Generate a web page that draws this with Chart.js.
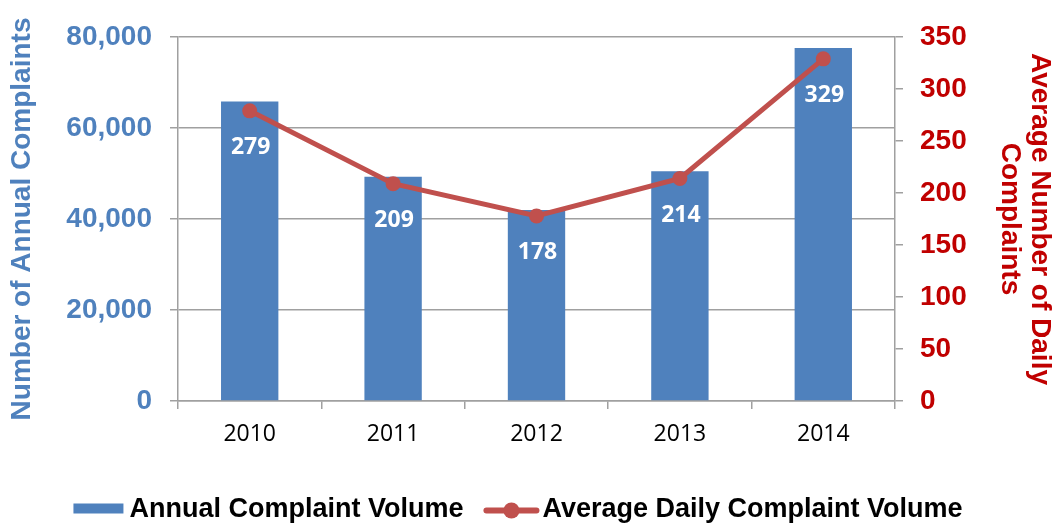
<!DOCTYPE html>
<html>
<head>
<meta charset="utf-8">
<script src="https://cdn.jsdelivr.net/npm/chart.js@4.4.0/dist/chart.umd.min.js"></script>
<style>
  html, body { margin: 0; padding: 0; background: #fff; }
  #wrap { width: 1057px; height: 525px; position: relative; }
</style>
</head>
<body>
<div id="wrap"><canvas id="complaintsChart"></canvas></div>
<script>
const years = ["2010", "2011", "2012", "2013", "2014"];
const annualComplaints = [65800, 49300, 42000, 50500, 77600];
const dailyComplaints = [279, 209, 178, 214, 329];
const leftTicks = [0, 20000, 40000, 60000, 80000];
const rightTicks = [0, 50, 100, 150, 200, 250, 300, 350];

const BLUE = "#4F81BD";
const RED = "#C0504D";
const DARKRED = "#C00000";
const GRID = "#a0a0a0";

const withCommas = v => String(v).replace(/\B(?=(\d{3})+(?!\d))/g, ",");

// white value labels under the line points
const pointLabels = {
    id: "pointLabels",
    afterDatasetsDraw(chart) {
        const ctx = chart.ctx;
        const idx = chart.data.datasets.findIndex(d => d.type === "line");
        const meta = chart.getDatasetMeta(idx);
        ctx.save();
        ctx.fillStyle = "#fff";
        ctx.font = "bold 23px 'Open Sans'";
        ctx.textAlign = "center";
        ctx.textBaseline = "middle";
        meta.data.forEach((pt, i) => {
            ctx.fillText(chart.data.datasets[idx].data[i], pt.x + 1, pt.y + 37);
        });
        ctx.restore();
    }
};

// legend drawn by hand so the line entry gets a line + marker
const bottomLegend = {
    id: "bottomLegend",
    afterDraw(chart) {
        const ctx = chart.ctx;
        const y = 508.5;
        const bar = chart.data.datasets.find(d => d.type === "bar");
        const line = chart.data.datasets.find(d => d.type === "line");
        ctx.save();
        ctx.font = "bold 27px 'Liberation Sans'";
        ctx.textBaseline = "middle";
        ctx.textAlign = "left";
        const w1 = ctx.measureText(bar.label).width;
        const w2 = ctx.measureText(line.label).width;
        const total = 50 + 6 + w1 + 21 + 54 + 4 + w2;
        let x = 518 - total / 2;

        ctx.fillStyle = BLUE;
        ctx.fillRect(x, y - 5, 50, 10);
        x += 56;
        ctx.fillStyle = "#000";
        ctx.fillText(bar.label, x, y + 1);
        x += w1 + 21;

        ctx.strokeStyle = RED;
        ctx.lineWidth = 6;
        ctx.lineCap = "round";
        ctx.beginPath();
        ctx.moveTo(x + 2, y + 2);
        ctx.lineTo(x + 52, y + 2);
        ctx.stroke();
        ctx.fillStyle = RED;
        ctx.beginPath();
        ctx.arc(x + 27, y + 2, 8, 0, Math.PI * 2);
        ctx.fill();
        x += 58;
        ctx.fillStyle = "#000";
        ctx.fillText(line.label, x, y + 1);
        ctx.restore();
    }
};

new Chart(document.getElementById("complaintsChart"), {
    type: "bar",
    data: {
        labels: years,
        datasets: [
            {
                type: "line",
                label: "Average Daily Complaint Volume",
                data: dailyComplaints,
                yAxisID: "y1",
                borderColor: RED,
                backgroundColor: RED,
                borderWidth: 5,
                pointRadius: 7.5,
                pointBackgroundColor: RED,
                pointBorderColor: RED,
                pointBorderWidth: 0,
                tension: 0,
                order: 1
            },
            {
                type: "bar",
                label: "Annual Complaint Volume",
                data: annualComplaints,
                yAxisID: "y",
                backgroundColor: BLUE,
                barPercentage: 0.4,
                categoryPercentage: 1,
                order: 2
            }
        ]
    },
    options: {
        responsive: true,
        maintainAspectRatio: false,
        animation: false,
        layout: { padding: { top: 37, right: 0, bottom: 64, left: 0 } },
        plugins: {
            legend: { display: false },
            tooltip: { enabled: false }
        },
        scales: {
            x: {
                afterFit: a => { a.height = 60; },
                grid: { drawOnChartArea: false, offset: true, tickLength: 8, color: GRID, lineWidth: 1.5 },
                border: { color: GRID, width: 1.5 },
                ticks: { color: "#000", font: { family: "Open Sans", size: 23 }, padding: 12 }
            },
            y: {
                position: "left",
                min: 0,
                max: 80000,
                afterBuildTicks: a => { a.ticks = leftTicks.map(v => ({ value: v })); },
                afterFit: a => { a.width = 178; },
                grid: { color: GRID, lineWidth: 1.5, tickLength: 8 },
                border: { color: GRID, width: 1.5 },
                ticks: {
                    color: BLUE,
                    font: { family: "Liberation Sans", size: 28, weight: "bold" },
                    padding: 18,
                    callback: v => withCommas(v)
                },
                title: {
                    display: true,
                    text: "Number of Annual Complaints",
                    color: BLUE,
                    font: { family: "Liberation Sans", size: 28, weight: "bold", lineHeight: 1.2 },
                    padding: { top: 5, bottom: 0 }
                }
            },
            y1: {
                position: "right",
                min: 0,
                max: 350,
                afterBuildTicks: a => { a.ticks = rightTicks.map(v => ({ value: v })); },
                afterFit: a => { a.width = 162; },
                grid: { drawOnChartArea: false, color: GRID, lineWidth: 1.5, tickLength: 8 },
                border: { color: GRID, width: 1.5 },
                ticks: {
                    color: DARKRED,
                    font: { family: "Liberation Sans", size: 28, weight: "bold" },
                    padding: 17
                },
                title: {
                    display: true,
                    text: ["Average Number of Daily", "Complaints"],
                    color: DARKRED,
                    font: { family: "Liberation Sans", size: 28, weight: "bold", lineHeight: 1.07 },
                    padding: { top: 2, bottom: 0 }
                }
            }
        }
    },
    plugins: [pointLabels, bottomLegend]
});
</script>
</body>
</html>
